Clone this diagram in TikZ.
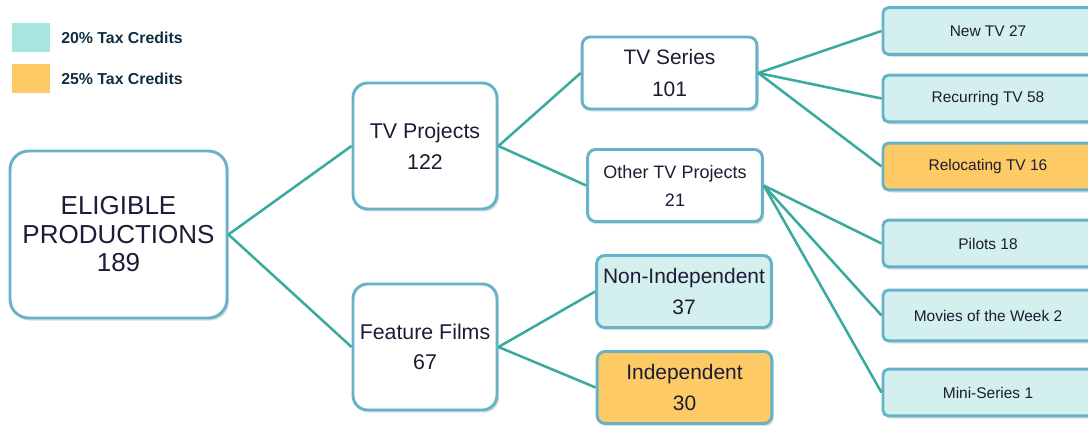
\documentclass[tikz,border=0pt]{standalone}
\usepackage{fontspec}
\setmainfont{Liberation Sans}
\usetikzlibrary{shadows}

\definecolor{linkteal}{HTML}{3AAA9F}
\definecolor{boxedge}{HTML}{66B2C8}
\definecolor{lightteal}{HTML}{D3EFEE}
\definecolor{keyteal}{HTML}{A9E4DF}
\definecolor{keyorange}{HTML}{FDCA65}
\definecolor{inkblue}{HTML}{1C1C34}
\definecolor{keyink}{HTML}{0F2E40}

\begin{document}
\begin{tikzpicture}[x=0.75pt, y=-0.75pt,
    box/.style={draw=boxedge, line width=2.2pt, fill=white, text=inkblue, align=center,
                inner sep=0pt, drop shadow={opacity=0.25, shadow xshift=1.5pt, shadow yshift=-2pt}},
    bigbox/.style={box, rounded corners=11pt, minimum width=108pt, minimum height=94.5pt,
                   font=\fontsize{16}{23}\selectfont},
    midbox/.style={box, rounded corners=6pt, minimum width=131pt, minimum height=54pt,
                   font=\fontsize{15.7}{23.5}\selectfont},
    leafbox/.style={box, fill=lightteal, rounded corners=4pt, minimum width=157.5pt, minimum height=35pt,
                    font=\fontsize{11.6}{14}\selectfont},
    link/.style={draw=linkteal, line width=1.9pt},
    keybox/.style={minimum width=28.5pt, minimum height=22pt, inner sep=0pt},
    keytext/.style={anchor=west, text=keyink, font=\bfseries\fontsize{11.9}{14}\selectfont, inner sep=0pt}]
    \useasboundingbox (0,0) rectangle (1088,425);
    \clip (0,0) rectangle (1088,425);

    % legend
    \node[keybox, fill=keyteal] (key20) at (31,37.5) {};
    \node[keytext] (key20t) at (61,37.5) {20\% Tax Credits};
    \node[keybox, fill=keyorange] (key25) at (31,78.5) {};
    \node[keytext] (key25t) at (61,78.5) {25\% Tax Credits};

    % tree
    \node[box, rounded corners=14pt, minimum width=162.75pt, minimum height=125.25pt,
          font=\fontsize{19.5}{21.4}\selectfont] (root) at (118.5,234.5)
        {ELIGIBLE\\PRODUCTIONS\\189};

    \node[bigbox] (tvproj) at (425,146) {TV Projects\\122};
    \node[bigbox] (films) at (425,347) {Feature Films\\67};

    \node[midbox] (series) at (669.5,73) {TV Series\\101};
    \node[midbox, font=\fontsize{13.5}{21}\selectfont] (othertv) at (675,185.5) {Other TV Projects\\21};
    \node[midbox, fill=lightteal] (nonindep) at (684,291.5) {Non-Independent\\37};
    \node[midbox, fill=keyorange] (indep) at (684.5,387.5) {Independent\\30};

    \node[leafbox] (newtv) at (988,31) {New TV 27};
    \node[leafbox] (recur) at (988,98.5) {Recurring TV 58};
    \node[leafbox, fill=keyorange] (reloc) at (988,166.5) {Relocating TV 16};
    \node[leafbox] (pilots) at (988,243.5) {Pilots 18};
    \node[leafbox, minimum height=38pt] (movies) at (988,315.5) {Movies of the Week 2};
    \node[leafbox] (mini) at (988,392.5) {Mini-Series 1};

    % connectors
    \draw[link] (root.east) -- (tvproj.west);
    \draw[link] (root.east) -- (films.west);
    \draw[link] (tvproj.east) -- (series.west);
    \draw[link] (tvproj.east) -- (othertv.west);
    \draw[link] (films.east) -- (nonindep.west);
    \draw[link] (films.east) -- (indep.west);
    \foreach \leaf in {newtv, recur, reloc}
        \draw[link] (series.east) -- (\leaf.west);
    \foreach \leaf in {pilots, movies, mini}
        \draw[link] (othertv.east) -- (\leaf.west);
\end{tikzpicture}
\end{document}
